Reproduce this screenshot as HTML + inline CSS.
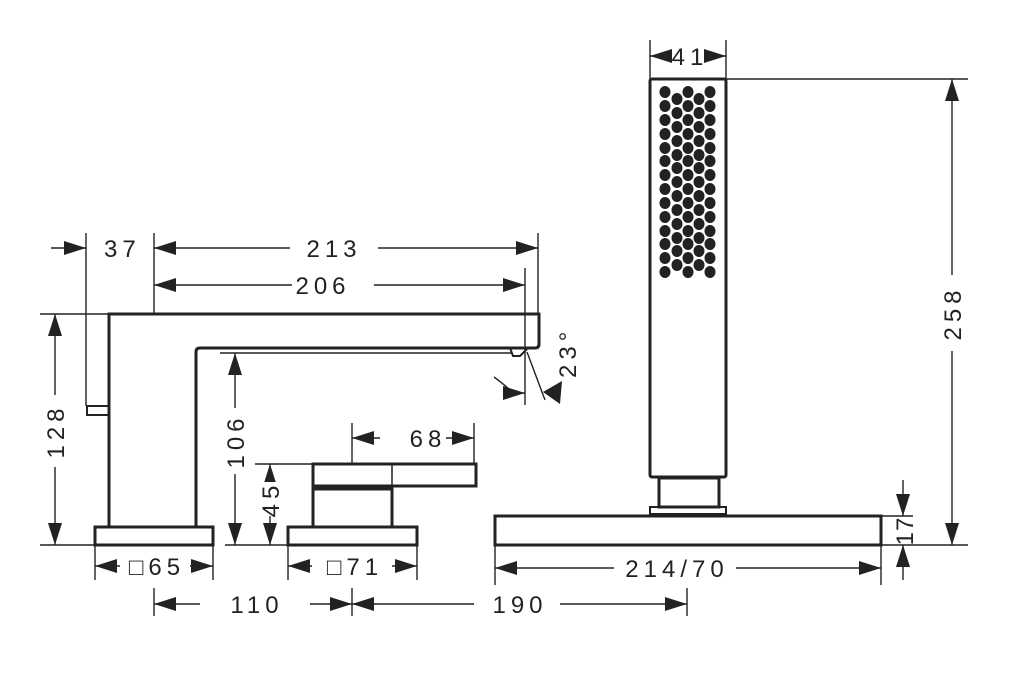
<!DOCTYPE html>
<html><head><meta charset="utf-8"><style>
html,body{margin:0;padding:0;background:#fff;}
svg{display:block;}
text{font-family:"Liberation Sans",sans-serif;font-size:24px;fill:#222;letter-spacing:5px;}
</style></head><body>
<svg width="1024" height="681" viewBox="0 0 1024 681" xmlns="http://www.w3.org/2000/svg">
<defs>
<marker id="a" markerUnits="userSpaceOnUse" markerWidth="22" markerHeight="14" refX="22" refY="7" orient="auto-start-reverse"><path d="M0,0 L22,7 L0,14 z" fill="#222"/></marker>
</defs>
<rect width="1024" height="681" fill="#fff"/>
<g fill="none" stroke="#222" stroke-width="3">
<!-- spout -->
<path d="M109,527 L109,314 L539,314 L539,344 Q539,348 535,348 L200,348 Q196,348 196,352 L196,527"/>
<path d="M510,348 L513,356 L520,356 L527,349" stroke-width="2"/>
<rect x="87" y="406" width="22" height="9" stroke-width="2"/>
<rect x="95" y="527" width="118" height="18"/>
<!-- lever -->
<rect x="313" y="464" width="163" height="22"/>
<line x1="392" y1="464" x2="392" y2="486" stroke-width="1.5"/>
<rect x="313" y="489" width="79" height="38"/>
<rect x="288" y="527" width="129" height="18"/>
<!-- hand shower -->
<rect x="650" y="79" width="76" height="398" rx="2"/>
<rect x="659" y="478" width="60" height="29"/>
<rect x="650" y="507" width="76" height="7" stroke-width="2"/>
<rect x="495" y="516" width="386" height="29"/>
</g>
<g fill="#222">
<script></script>
</g>
<g id="dots" fill="#222"></g>
<g stroke="#222" stroke-width="1.4" fill="none">
<!-- extension lines -->
<line x1="86" y1="233" x2="86" y2="406"/>
<line x1="154" y1="233" x2="154" y2="314"/>
<line x1="538" y1="233" x2="538" y2="314"/>
<line x1="525" y1="268" x2="525" y2="405"/>
<line x1="220" y1="353" x2="511" y2="353"/>
<line x1="527" y1="352" x2="545" y2="400"/>
<line x1="40" y1="314" x2="109" y2="314"/>
<line x1="40" y1="545" x2="95" y2="545"/>
<line x1="225" y1="545" x2="288" y2="545"/>
<line x1="255" y1="464" x2="313" y2="464"/>
<line x1="352" y1="423" x2="352" y2="464"/>
<line x1="474" y1="423" x2="474" y2="464"/>
<line x1="95" y1="545" x2="95" y2="580"/>
<line x1="213" y1="545" x2="213" y2="580"/>
<line x1="288" y1="545" x2="288" y2="580"/>
<line x1="417" y1="545" x2="417" y2="580"/>
<line x1="154" y1="588" x2="154" y2="616"/>
<line x1="352" y1="588" x2="352" y2="616"/>
<line x1="687" y1="588" x2="687" y2="616"/>
<line x1="495" y1="545" x2="495" y2="585"/>
<line x1="881" y1="545" x2="881" y2="585"/>
<line x1="650" y1="40" x2="650" y2="79"/>
<line x1="726" y1="40" x2="726" y2="79"/>
<line x1="726" y1="79" x2="968" y2="79"/>
<line x1="881" y1="545" x2="968" y2="545"/>
<line x1="881" y1="516" x2="913" y2="516"/>
<!-- dimension lines -->
<line x1="51" y1="248" x2="86" y2="248" marker-end="url(#a)"/>
<line x1="154" y1="248" x2="538" y2="248" marker-start="url(#a)" marker-end="url(#a)"/>
<line x1="154" y1="285" x2="525" y2="285" marker-start="url(#a)" marker-end="url(#a)"/>
<path d="M494,377 Q505,385 512,392"/>
<line x1="503" y1="393" x2="525" y2="393" marker-end="url(#a)"/>
<line x1="55" y1="314" x2="55" y2="545" marker-start="url(#a)" marker-end="url(#a)"/>
<line x1="235" y1="353" x2="235" y2="545" marker-start="url(#a)" marker-end="url(#a)"/>
<line x1="270" y1="464" x2="270" y2="545" marker-start="url(#a)" marker-end="url(#a)"/>
<line x1="352" y1="438" x2="474" y2="438" marker-start="url(#a)" marker-end="url(#a)"/>
<line x1="95" y1="566" x2="213" y2="566" marker-start="url(#a)" marker-end="url(#a)"/>
<line x1="288" y1="566" x2="417" y2="566" marker-start="url(#a)" marker-end="url(#a)"/>
<line x1="154" y1="604" x2="352" y2="604" marker-start="url(#a)" marker-end="url(#a)"/>
<line x1="352" y1="604" x2="687" y2="604" marker-start="url(#a)" marker-end="url(#a)"/>
<line x1="495" y1="568" x2="881" y2="568" marker-start="url(#a)" marker-end="url(#a)"/>
<line x1="672" y1="56" x2="650" y2="56" marker-end="url(#a)"/>
<line x1="704" y1="56" x2="726" y2="56" marker-end="url(#a)"/>
<line x1="952" y1="79" x2="952" y2="545" marker-start="url(#a)" marker-end="url(#a)"/>
<line x1="903" y1="480" x2="903" y2="516" marker-end="url(#a)"/>
<line x1="903" y1="580" x2="903" y2="545" marker-end="url(#a)"/>
</g>
<polygon points="543,392 562,381 560,404" fill="#222"/>
<!-- text backgrounds -->
<g fill="#fff">
<rect x="290" y="236" width="88" height="26"/>
<rect x="292" y="272" width="82" height="26"/>
<rect x="42" y="395" width="26" height="72"/>
<rect x="222" y="408" width="26" height="66"/>
<rect x="257" y="482" width="26" height="34"/>
<rect x="380" y="426" width="66" height="26"/>
<rect x="120" y="554" width="70" height="26"/>
<rect x="312" y="554" width="80" height="26"/>
<rect x="200" y="592" width="110" height="26"/>
<rect x="474" y="592" width="86" height="26"/>
<rect x="614" y="556" width="122" height="26"/>
<rect x="939" y="275" width="26" height="76"/>
</g>
<g>
<text x="104" y="257">37</text>
<text x="334" y="257" text-anchor="middle">213</text>
<text x="323" y="294" text-anchor="middle">206</text>
<text x="428" y="447" text-anchor="middle">68</text>
<text x="690" y="65" text-anchor="middle">41</text>
<text x="157" y="575" text-anchor="middle">□65</text>
<text x="355" y="575" text-anchor="middle">□71</text>
<text x="257" y="613" text-anchor="middle">110</text>
<text x="520" y="613" text-anchor="middle">190</text>
<text x="677" y="577" text-anchor="middle">214/70</text>
<text transform="translate(64,431) rotate(-90)" text-anchor="middle">128</text>
<text transform="translate(244,441) rotate(-90)" text-anchor="middle">106</text>
<text transform="translate(279,499) rotate(-90)" text-anchor="middle">45</text>
<text transform="translate(961,313) rotate(-90)" text-anchor="middle">258</text>
<text transform="translate(913,531) rotate(-90)" text-anchor="middle" style="letter-spacing:1px">17</text>
<text transform="translate(576,378) rotate(-90)">23°</text>
</g>
<g fill="#222">
<!-- col A x=665,688,710 ; col B x=677,699 -->
<g id="cA">
<ellipse cx="665" cy="92" rx="5.5" ry="6"/><ellipse cx="665" cy="106" rx="5.5" ry="6"/><ellipse cx="665" cy="120" rx="5.5" ry="6"/><ellipse cx="665" cy="134" rx="5.5" ry="6"/><ellipse cx="665" cy="148" rx="5.5" ry="6"/><ellipse cx="665" cy="161" rx="5.5" ry="6"/><ellipse cx="665" cy="175" rx="5.5" ry="6"/><ellipse cx="665" cy="189" rx="5.5" ry="6"/><ellipse cx="665" cy="203" rx="5.5" ry="6"/><ellipse cx="665" cy="217" rx="5.5" ry="6"/><ellipse cx="665" cy="231" rx="5.5" ry="6"/><ellipse cx="665" cy="244" rx="5.5" ry="6"/><ellipse cx="665" cy="258" rx="5.5" ry="6"/><ellipse cx="665" cy="272" rx="5.5" ry="6"/>
</g>
<use href="#cA" x="23"/><use href="#cA" x="45"/>
<g id="cB">
<ellipse cx="677" cy="99" rx="5.5" ry="6"/><ellipse cx="677" cy="113" rx="5.5" ry="6"/><ellipse cx="677" cy="127" rx="5.5" ry="6"/><ellipse cx="677" cy="141" rx="5.5" ry="6"/><ellipse cx="677" cy="155" rx="5.5" ry="6"/><ellipse cx="677" cy="168" rx="5.5" ry="6"/><ellipse cx="677" cy="182" rx="5.5" ry="6"/><ellipse cx="677" cy="196" rx="5.5" ry="6"/><ellipse cx="677" cy="210" rx="5.5" ry="6"/><ellipse cx="677" cy="224" rx="5.5" ry="6"/><ellipse cx="677" cy="238" rx="5.5" ry="6"/><ellipse cx="677" cy="251" rx="5.5" ry="6"/><ellipse cx="677" cy="265" rx="5.5" ry="6"/>
</g>
<use href="#cB" x="22"/>
</g>
</svg>
</body></html>
